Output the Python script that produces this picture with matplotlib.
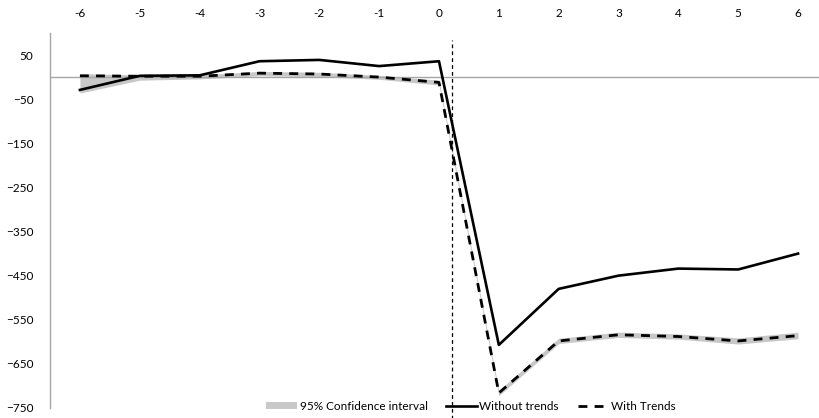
import matplotlib
matplotlib.use("Agg")
import matplotlib.pyplot as plt
import numpy as np

plt.rcParams['font.family'] = ['Lato', 'DejaVu Sans']

periods = [-6, -5, -4, -3, -2, -1, 0, 1, 2, 3, 4, 5, 6]
without_trends = [-29, 3, 4, 36, 39, 25, 36, -607, -480, -450, -434, -436, -400]
with_trends = [3, 2, 2, 9, 7, 0, -12, -716, -598, -584, -588, -598, -586]
ci_lower = [-36, -7, -4, 3, 1, -5, -18, -722, -604, -590, -594, -605, -593]
ci_upper = [8, 5, 5, 13, 11, 4, -7, -710, -592, -578, -582, -591, -578]
y_ticks = [50, -50, -150, -250, -350, -450, -550, -650, -750]
treatment_x = 0.22

fig = plt.figure(figsize=(8.19, 4.18), dpi=100)
ax = fig.add_axes([50 / 819, 1 - 408 / 418, 1 - 50 / 819, 375 / 418])

ax.fill_between(periods, ci_lower, ci_upper, color='#c8c8c8', lw=0,
                label='95% Confidence interval', zorder=1)
ax.plot(periods, without_trends, color='black', lw=1.9, label='Without trends', zorder=3)
ax.plot(periods, with_trends, color='black', lw=2.0, dashes=(3.2, 2.6),
        label='With Trends', zorder=3)

ax.axhline(0, color='#a6a6a6', lw=1.0, zorder=2, clip_on=False)
ax.vlines(treatment_x, -775, 85, colors='black', lw=0.9, linestyles=(0, (3, 2.5)),
          clip_on=False, zorder=4)

ax.set_xlim(-6.5, 6.35)
ax.set_ylim(-750, 100)
ax.set_xticks(periods)
ax.set_xticklabels([str(p) for p in periods])
ax.set_yticks(y_ticks)
ax.xaxis.tick_top()
ax.tick_params(axis='x', length=0, pad=10, labelsize=8.5)
ax.tick_params(axis='y', length=0, pad=12, labelsize=8.5)

for s in ['top', 'right', 'bottom']:
    ax.spines[s].set_visible(False)
ax.spines['left'].set_color('#a6a6a6')
ax.spines['left'].set_linewidth(1.0)

fig.legend(loc='center', bbox_to_anchor=(471 / 819, 1 - 406 / 418), ncol=3,
           frameon=False, fontsize=8.5, handlelength=2.6, handletextpad=0.2,
           columnspacing=1.6, handleheight=0.6)

fig.savefig('out.png', dpi=100)
